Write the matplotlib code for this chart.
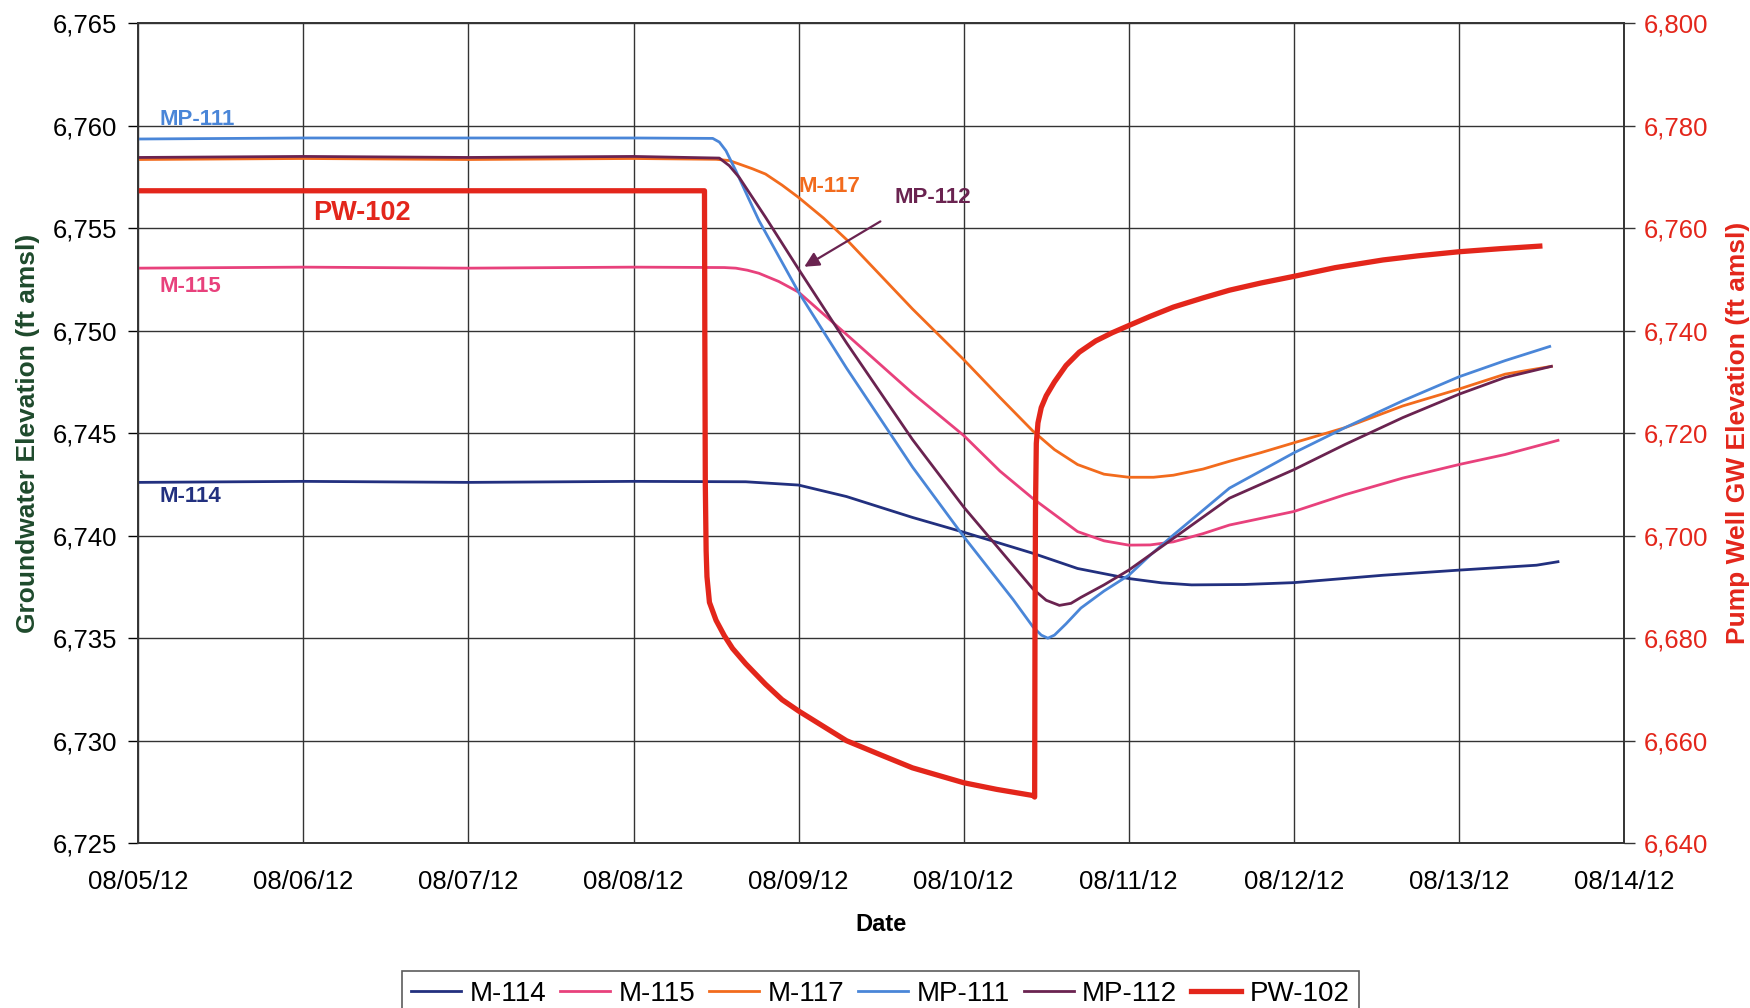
import matplotlib.pyplot as plt
import matplotlib.dates as mdates
import pandas as pd

plt.rcParams['font.family'] = ['Liberation Sans', 'DejaVu Sans']

# days since 08/05/12 00:00 and elevations (ft amsl)
m114_day = [0, 1, 2, 3, 3.68, 4.0, 4.29, 4.69, 5.0, 5.22, 5.42, 5.69, 6.0, 6.2, 6.38, 6.7, 7.0,
            7.54, 8.0, 8.47, 8.6]
m114_ft = [6742.6, 6742.65, 6742.6, 6742.65, 6742.63, 6742.47, 6741.91, 6740.89, 6740.17, 6739.63,
           6739.14, 6738.4, 6737.91, 6737.7, 6737.6, 6737.62, 6737.71, 6738.07, 6738.32, 6738.56,
           6738.73]

m115_day = [0, 1, 2, 3, 3.55, 3.62, 3.69, 3.76, 3.88, 4.0, 4.29, 4.69, 5.0, 5.22, 5.42, 5.69, 5.85,
            6.0, 6.13, 6.27, 6.45, 6.61, 7.0, 7.31, 7.66, 8.0, 8.28, 8.6]
m115_ft = [6753.05, 6753.1, 6753.05, 6753.1, 6753.08, 6753.05, 6752.95, 6752.8, 6752.4, 6751.88,
           6749.82, 6746.95, 6744.89, 6743.15, 6741.81, 6740.2, 6739.75, 6739.54, 6739.55, 6739.7,
           6740.1, 6740.52, 6741.18, 6742.0, 6742.81, 6743.47, 6743.96, 6744.65]

m117_day = [0, 1, 2, 3, 3.5, 3.58, 3.64, 3.72, 3.8, 3.9, 4.0, 4.15, 4.29, 4.69, 5.0, 5.22, 5.42,
            5.55, 5.69, 5.85, 6.0, 6.15, 6.27, 6.45, 6.61, 6.8, 7.0, 7.31, 7.66, 8.0, 8.28, 8.56]
m117_ft = [6758.35, 6758.4, 6758.35, 6758.4, 6758.36, 6758.3, 6758.13, 6757.9, 6757.64, 6757.1,
           6756.5, 6755.5, 6754.45, 6751.06, 6748.59, 6746.74, 6745.1, 6744.2, 6743.47, 6743.0,
           6742.85, 6742.85, 6742.95, 6743.25, 6743.63, 6744.05, 6744.53, 6745.27, 6746.33,
           6747.15, 6747.88, 6748.26]

mp111_day = [0, 1, 2, 3, 3.48, 3.52, 3.56, 3.62, 3.7, 3.76, 4.0, 4.29, 4.69, 5.0, 5.3, 5.42, 5.47,
             5.51, 5.55, 5.62, 5.71, 5.85, 6.0, 6.13, 6.27, 6.61, 7.0, 7.31, 7.66, 8.0, 8.28, 8.55]
mp111_ft = [6759.35, 6759.4, 6759.4, 6759.4, 6759.38, 6759.2, 6758.78, 6757.8, 6756.4, 6755.37,
            6751.88, 6748.18, 6743.35, 6739.96, 6736.88, 6735.55, 6735.15, 6735.0, 6735.15, 6735.7,
            6736.47, 6737.3, 6738.07, 6739.05, 6740.03, 6742.32, 6744.04, 6745.27, 6746.58,
            6747.75, 6748.54, 6749.23]

mp112_day = [0, 1, 2, 3, 3.52, 3.58, 3.64, 3.8, 4.0, 4.29, 4.69, 5.0, 5.42, 5.5, 5.58, 5.65, 5.71,
             5.85, 6.0, 6.27, 6.61, 7.0, 7.31, 7.66, 8.0, 8.28, 8.56]
mp112_ft = [6758.45, 6758.5, 6758.45, 6758.5, 6758.42, 6758.05, 6757.48, 6755.53, 6753.0, 6749.41,
            6744.69, 6741.4, 6737.4, 6736.85, 6736.6, 6736.7, 6736.99, 6737.6, 6738.32, 6739.87,
            6741.83, 6743.22, 6744.45, 6745.76, 6746.9, 6747.72, 6748.26]

# pumping well, right axis
pw102_day = [0, 1, 2, 3, 3.43, 3.432, 3.435, 3.44, 3.445, 3.46, 3.5, 3.55, 3.6, 3.68, 3.8, 3.9,
             4.0, 4.15, 4.29, 4.5, 4.69, 4.85, 5.0, 5.2, 5.42, 5.43, 5.432, 5.435, 5.44, 5.45,
             5.47, 5.5, 5.55, 5.62, 5.7, 5.8, 5.9, 6.0, 6.13, 6.27, 6.45, 6.61, 6.8, 7.0, 7.25,
             7.54, 7.75, 8.0, 8.25, 8.49]
pw102_ft = [6767.3, 6767.3, 6767.3, 6767.3, 6767.3, 6740, 6710, 6697, 6692, 6687, 6683.5, 6680.5,
            6678, 6675, 6671, 6668, 6665.8, 6662.8, 6660, 6657.2, 6654.7, 6653.2, 6651.8, 6650.5,
            6649.3, 6649.0, 6680, 6705, 6718, 6722, 6725, 6727.3, 6730, 6733.2, 6735.8, 6738,
            6739.6, 6741, 6742.8, 6744.6, 6746.4, 6747.9, 6749.3, 6750.6, 6752.3, 6753.8, 6754.6,
            6755.4, 6756, 6756.5]

start = pd.Timestamp('2012-08-05')
def to_dates(days):
    return start + pd.to_timedelta(days, unit='D')

c114 = '#22307f'
c115 = '#e8417c'
c117 = '#f26b1d'
c111 = '#4a86d8'
c112 = '#6a2350'
c102 = '#e3261b'

fig = plt.figure(figsize=(17.5, 10.08), dpi=100)
ax = fig.add_axes([0.079, 0.1635, 0.849, 0.8135])
ax2 = ax.twinx()

lw = 2.0
l1, = ax.plot(to_dates(m114_day), m114_ft, color=c114, lw=lw, label='M-114')
l2, = ax.plot(to_dates(m115_day), m115_ft, color=c115, lw=lw, label='M-115')
l3, = ax.plot(to_dates(m117_day), m117_ft, color=c117, lw=lw, label='M-117')
l4, = ax.plot(to_dates(mp111_day), mp111_ft, color=c111, lw=lw, label='MP-111')
l5, = ax.plot(to_dates(mp112_day), mp112_ft, color=c112, lw=lw, label='MP-112')
l6, = ax2.plot(to_dates(pw102_day), pw102_ft, color=c102, lw=3.8, label='PW-102')

ax.set_xlim(start, start + pd.Timedelta(days=9))
ax.set_ylim(6725, 6765)
ax.set_yticks(range(6725, 6766, 5))
ax.yaxis.set_major_formatter(plt.FuncFormatter(lambda v, p: f'{int(v):,}'))
ax2.set_ylim(6640, 6800)
ax2.set_yticks(range(6640, 6801, 20))
ax2.yaxis.set_major_formatter(plt.FuncFormatter(lambda v, p: f'{int(v):,}'))

ax.xaxis.set_major_locator(mdates.DayLocator())
ax.xaxis.set_major_formatter(mdates.DateFormatter('%m/%d/%y'))

ax.grid(True, color='#333333', lw=1.0)
ax.tick_params(axis='x', length=0, pad=19, labelsize=18.5)
ax.tick_params(axis='y', length=7, width=1, pad=8, labelsize=18.5, direction='out')
ax2.tick_params(axis='y', length=8, width=1, pad=6, labelsize=18.5, colors='#333333',
                labelcolor='#e3261b', direction='out')
for a in (ax, ax2):
    for s in a.spines.values():
        s.set_color('#333333')
        s.set_linewidth(1.2)

ax.set_xlabel('Date', fontsize=17, fontweight='bold', labelpad=14)
ax.set_ylabel('Groundwater Elevation (ft amsl)', fontsize=19, fontweight='bold', color='#1e4a2c', labelpad=9)
ax2.set_ylabel('Pump Well GW Elevation (ft amsl)', fontsize=19, fontweight='bold', color=c102, labelpad=13)

# well labels
ax.text(to_dates(0.13), 6760.3, 'MP-111', color=c111, fontsize=16, fontweight='bold', va='center')
ax.text(to_dates(1.06), 6755.75, 'PW-102', color=c102, fontsize=19.5, fontweight='bold', va='center')
ax.text(to_dates(0.13), 6752.15, 'M-115', color=c115, fontsize=16, fontweight='bold', va='center')
ax.text(to_dates(0.13), 6741.9, 'M-114', color=c114, fontsize=16, fontweight='bold', va='center')
ax.text(to_dates(4.0), 6757.05, 'M-117', color=c117, fontsize=16, fontweight='bold', va='center')
ax.text(to_dates(4.58), 6756.5, 'MP-112', color=c112, fontsize=16, fontweight='bold', va='center')
ax.annotate('', xy=(to_dates(4.02), 6753.05), xytext=(to_dates(4.51), 6755.4),
            arrowprops=dict(arrowstyle='-|>', color=c112, lw=1.6, mutation_scale=22))

leg = fig.legend(handles=[l1, l2, l3, l4, l5, l6], loc='center', bbox_to_anchor=(0.503, 0.014),
                 ncol=6, frameon=True, fancybox=False, edgecolor='#333333',
                 handlelength=1.8, handletextpad=0.3, columnspacing=0.5, borderpad=0.35,
                 prop={'family': ['Liberation Sans Narrow', 'Liberation Sans'], 'size': 20})
leg.get_frame().set_linewidth(1.2)

fig.savefig('out.png', dpi=100)
